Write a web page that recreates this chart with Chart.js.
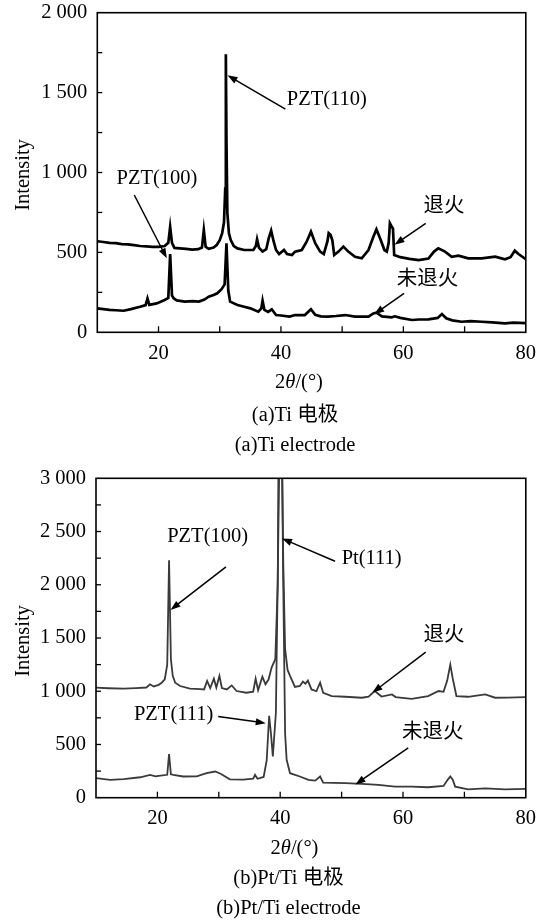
<!DOCTYPE html>
<html><head><meta charset="utf-8">
<script src="https://cdn.jsdelivr.net/npm/chart.js@4/dist/chart.umd.min.js"></script>
<style>
html,body{margin:0;padding:0;background:#fff;width:547px;height:921px;overflow:hidden}
canvas{position:absolute;left:0}
#cA{top:0}
#cB{top:460px}
</style></head><body>
<canvas id="cA" width="547" height="460"></canvas>
<canvas id="cB" width="547" height="461"></canvas>
<script>
// ---------- Tick labels ----------
const xTickVals = [20, 40, 60, 80];
const xTickLabels = ['20', '40', '60', '80'];
const yTickValsA = [0, 500, 1000, 1500, 2000];
const yTickLabelsA = ['0', '500', '1 000', '1 500', '2 000'];
const yTickValsB = [0, 500, 1000, 1500, 2000, 2500, 3000];
const yTickLabelsB = ['0', '500', '1 000', '1 500', '2 000', '2 500', '3 000'];

// ---------- (a) Ti electrode : annealed (退火) ----------
const annA_x = [10.0,11.0,12.0,13.0,14.0,15.0,16.0,17.0,18.0,19.0,20.0,21.0,21.6,21.9,22.2,22.6,23.5,24.5,25.5,26.5,27.1,27.4,27.7,28.2,29.0,29.5,30.0,30.4,30.7,30.9,31.0,31.1,31.25,31.5,31.8,32.3,32.9,34.0,35.5,35.9,36.1,36.4,37.0,37.6,38.0,38.4,38.8,39.2,39.7,40.5,41.0,41.8,42.3,43.4,44.2,44.9,45.6,46.4,47.0,47.6,47.8,48.1,48.4,48.7,49.4,50.2,51.0,52.1,53.2,54.3,55.1,55.6,56.3,56.9,57.3,57.6,57.8,58.1,58.3,58.5,59.5,61.0,62.5,64.1,65.0,65.7,66.8,67.9,69.0,70.6,72.8,75.0,76.6,77.5,78.2,78.8,80.0];
const annA_y = [570,565,560,558,552,550,545,540,538,535,535,540,560,660,560,528,525,522,518,520,530,640,535,522,530,546,577,620,690,900,1740,1200,745,619,577,540,525,515,515,540,582,530,505,520,588,636,570,515,490,515,490,484,505,515,567,630,557,505,490,570,620,610,575,484,505,536,505,473,463,515,598,644,577,515,505,560,682,661,650,484,470,460,452,462,505,525,505,473,480,463,463,473,457,470,511,490,457];

// ---------- (a) Ti electrode : as-deposited (未退火) ----------
const rawA_x = [10.0,11.0,12.0,13.0,14.3,15.5,17.0,17.9,18.2,18.5,19.7,21.0,21.6,21.9,22.2,22.5,23.0,24.3,25.5,26.6,27.5,28.2,29.0,29.6,30.3,30.8,31.1,31.4,31.7,32.9,34.0,35.0,36.3,36.8,37.0,37.3,37.9,38.5,39.2,40.0,41.4,42.3,43.9,44.9,45.6,46.5,47.7,49.0,50.5,52.1,54.3,55.1,55.6,56.5,58.1,58.6,59.5,61.4,62.5,64.1,65.6,66.3,67.0,68.0,69.5,71.0,72.8,74.5,76.6,78.0,80.0];
const rawA_y = [150,145,140,138,135,145,160,170,212,172,181,202,215,490,230,212,200,192,195,192,205,223,233,244,270,300,557,260,192,171,160,150,129,150,198,140,128,144,108,105,98,108,108,144,110,100,98,102,108,98,98,118,123,100,94,100,90,77,80,81,90,114,88,75,66,70,66,62,56,60,58];

// ---------- (b) Pt/Ti electrode : annealed (退火) ----------
const annB_x = [10.0,12.0,14.5,16.5,18.2,18.8,19.4,20.2,20.7,21.2,21.6,21.9,22.2,22.5,22.9,23.7,25.3,27.0,27.6,28.1,28.6,29.2,29.6,30.1,30.5,31.3,32.1,32.9,34.5,35.6,36.0,36.4,37.1,37.6,38.1,38.6,39.2,39.6,39.85,40.2,40.5,40.8,41.2,41.6,42.4,43.2,43.7,44.1,44.5,45.1,45.9,46.5,47.0,48.4,50.6,53.3,54.4,55.4,56.5,58.2,58.8,61.4,64.1,65.8,66.6,67.2,67.7,68.1,68.7,70.6,73.4,75.0,77.0,80.0];
const annB_y = [1033,1028,1024,1030,1035,1065,1045,1060,1080,1112,1250,2230,1300,1144,1080,1049,1024,1020,1017,1096,1030,1118,1035,1144,1030,1017,1055,1002,986,995,1118,1010,1137,1065,1110,1222,1301,2000,4500,3800,2200,1395,1200,1144,1040,1050,1090,1070,1100,1017,1000,1080,986,955,948,939,950,1002,950,970,945,929,955,1002,995,1100,1250,1120,955,948,970,939,940,945];

// ---------- (b) Pt/Ti electrode : as-deposited (未退火) ----------
const rawB_x = [10.0,12.3,14.5,17.2,18.8,19.7,20.2,21.6,21.9,22.2,22.6,24.2,26.4,28.0,29.4,30.3,31.8,34.0,35.6,35.9,36.3,37.3,37.8,38.2,38.5,38.8,39.3,39.7,40.1,40.5,40.8,41.05,41.6,43.2,44.6,45.7,46.5,47.0,50.6,53.3,56.0,58.7,61.4,64.1,66.6,67.3,67.7,68.1,68.5,70.6,73.4,76.6,80.0];
const rawB_y = [183,167,175,192,214,200,205,215,410,220,214,199,200,230,246,225,173,170,180,214,178,195,350,770,600,387,800,2500,4200,2000,600,356,230,199,167,160,199,142,136,129,120,104,104,98,110,170,200,170,104,79,88,79,82];

// ---------- annotation labels (data coordinates) ----------
const annotA = [
  {text: 'PZT(110)', x: 47.5, y: 1454, from: [40.73, 1396], to: [31.27, 1608]},
  {text: 'PZT(100)', x: 19.75, y: 964, from: [16.04, 859], to: [21.35, 463]},
  {text: '退火', x: 66.64, y: 786, from: [63.65, 682], to: [58.55, 548]},
  {text: '未退火', x: 63.95, y: 327, from: [60.11, 244], to: [55.24, 113]}
];
const annotB = [
  {text: 'PZT(100)', x: 28.18, y: 2451, from: [31.17, 2168], to: [22.13, 1764]},
  {text: 'Pt(111)', x: 54.9, y: 2246, from: [48.93, 2221], to: [40.29, 2435]},
  {text: '退火', x: 66.68, y: 1521, from: [63.7, 1367], to: [55.03, 987]},
  {text: 'PZT(111)', x: 22.64, y: 781, from: [29.9, 763], to: [37.65, 700]},
  {text: '未退火', x: 64.84, y: 609, from: [60.85, 467], to: [52.26, 125]}
];

const FONT = '"Liberation Serif","Times New Roman","Noto Sans CJK SC",serif';
const FS = 20.5;

function pts(xs, ys) { return xs.map((x, i) => ({x: x, y: ys[i]})); }

function drawArrow(ctx, x1, y1, x2, y2) {
  const a = Math.atan2(y2 - y1, x2 - x1), L = 10, W = 3.6;
  ctx.beginPath(); ctx.moveTo(x1, y1); ctx.lineTo(x2 - 6 * Math.cos(a), y2 - 6 * Math.sin(a)); ctx.stroke();
  ctx.beginPath();
  ctx.moveTo(x2, y2);
  ctx.lineTo(x2 - L * Math.cos(a) + W * Math.sin(a), y2 - L * Math.sin(a) - W * Math.cos(a));
  ctx.lineTo(x2 - L * Math.cos(a) - W * Math.sin(a), y2 - L * Math.sin(a) + W * Math.cos(a));
  ctx.closePath(); ctx.fill();
}

function drawTheta(ctx, cx, cy) {
  const n = FS + 'px ' + FONT, it = 'italic ' + FS + 'px ' + FONT;
  ctx.font = n;
  const w1 = ctx.measureText('2').width;
  const w3 = ctx.measureText('/(°)').width;
  ctx.font = it;
  const w2 = ctx.measureText('θ').width;
  let x = cx - (w1 + w2 + w3) / 2;
  ctx.textAlign = 'left'; ctx.textBaseline = 'middle';
  ctx.font = n; ctx.fillText('2', x, cy); x += w1;
  ctx.font = it; ctx.fillText('θ', x, cy); x += w2;
  ctx.font = n; ctx.fillText('/(°)', x, cy);
}

const overlay = {
  id: 'overlay',
  afterDraw(chart, args, o) {
    const ctx = chart.ctx, ca = chart.chartArea;
    const xs = chart.scales.x, ys = chart.scales.y;
    ctx.save();
    ctx.strokeStyle = '#000'; ctx.fillStyle = '#000';
    // inward tick marks
    ctx.lineWidth = 1.3;
    xs.ticks.forEach(t => {
      if (t.value <= xs.min || t.value >= xs.max) return;
      const px = xs.getPixelForValue(t.value);
      ctx.beginPath(); ctx.moveTo(px, ca.bottom); ctx.lineTo(px, ca.bottom - 6); ctx.stroke();
    });
    ys.ticks.forEach(t => {
      if (t.value <= ys.min || t.value >= ys.max) return;
      const py = ys.getPixelForValue(t.value);
      ctx.beginPath(); ctx.moveTo(ca.left, py); ctx.lineTo(ca.left + 5, py); ctx.stroke();
    });
    // frame
    ctx.lineWidth = 1.6;
    ctx.strokeRect(ca.left, ca.top, ca.right - ca.left, ca.bottom - ca.top);
    // annotations
    ctx.lineWidth = 1.5;
    ctx.font = FS + 'px ' + FONT;
    ctx.textAlign = 'center'; ctx.textBaseline = 'middle';
    o.annot.forEach(a => {
      ctx.fillText(a.text, xs.getPixelForValue(a.x), ys.getPixelForValue(a.y));
      drawArrow(ctx, xs.getPixelForValue(a.from[0]), ys.getPixelForValue(a.from[1]),
                xs.getPixelForValue(a.to[0]), ys.getPixelForValue(a.to[1]));
    });
    // axis titles & captions
    drawTheta(ctx, o.thetaX, ca.bottom + o.thetaDy);
    ctx.font = FS + 'px ' + FONT; ctx.textAlign = 'center'; ctx.textBaseline = 'middle';
    ctx.fillText(o.cap1, o.capX, ca.bottom + o.cap1Dy);
    ctx.fillText(o.cap2, o.capX, ca.bottom + o.cap2Dy);
    ctx.save();
    ctx.translate(o.intX, o.intY); ctx.rotate(-Math.PI / 2);
    ctx.fillText('Intensity', 0, 0);
    ctx.restore();
    ctx.restore();
  }
};

function makeChart(id, ds, yMax, yVals, yLabels, geom, ov) {
  return new Chart(document.getElementById(id), {
    type: 'line',
    data: {datasets: ds},
    options: {
      responsive: false, animation: false, devicePixelRatio: 1,
      layout: {padding: {left: 0, right: geom.right, top: geom.top, bottom: 0}},
      plugins: {legend: {display: false}, tooltip: {enabled: false}, overlay: ov},
      elements: {point: {radius: 0}, line: {tension: 0}},
      scales: {
        x: {
          type: 'linear', min: 10, max: 80,
          grid: {display: false, drawTicks: false}, border: {display: false},
          afterFit: s => { s.height = geom.xh; s.paddingLeft = 0; s.paddingRight = 0; },
          ticks: {
            stepSize: 10, autoSkip: false, maxRotation: 0, padding: geom.xpad,
            color: '#000', font: {family: FONT, size: FS},
            callback: v => { const i = xTickVals.indexOf(v); return i >= 0 ? xTickLabels[i] : ''; }
          }
        },
        y: {
          min: 0, max: yMax,
          grid: {display: false, drawTicks: false}, border: {display: false},
          afterFit: s => { s.width = geom.yw; s.paddingTop = 0; s.paddingBottom = 0; },
          ticks: {
            stepSize: 250, autoSkip: false, padding: 10,
            color: '#000', font: {family: FONT, size: FS},
            callback: v => { const i = yVals.indexOf(v); return i >= 0 ? yLabels[i] : ''; }
          }
        }
      }
    },
    plugins: [overlay]
  });
}

makeChart('cA', [
  {data: pts(annA_x, annA_y), borderColor: '#000', borderWidth: 2.7, clip: 0},
  {data: pts(rawA_x, rawA_y), borderColor: '#000', borderWidth: 2.7, clip: 0}
], 2000, yTickValsA, yTickLabelsA,
  {right: 21.2, top: 12.7, xh: 127.7, yw: 97.3, xpad: 9},
  {annot: annotA, thetaX: 299, thetaDy: 50.4, capX: 295, cap1: '(a)Ti 电极', cap2: '(a)Ti electrode',
   cap1Dy: 83.2, cap2Dy: 113, intX: 23.5, intY: 175});

makeChart('cB', [
  {data: pts(annB_x, annB_y), borderColor: '#3a3a3a', borderWidth: 1.8, clip: 0},
  {data: pts(rawB_x, rawB_y), borderColor: '#3a3a3a', borderWidth: 1.8, clip: 0}
], 3000, yTickValsB, yTickLabelsB,
  {right: 21.2, top: 18.3, xh: 123.3, yw: 96, xpad: 9},
  {annot: annotB, thetaX: 294.5, thetaDy: 51.2, capX: 288.5, cap1: '(b)Pt/Ti 电极', cap2: '(b)Pt/Ti electrode',
   cap1Dy: 81, cap2Dy: 111, intX: 23.5, intY: 181});
</script>
</body></html>
